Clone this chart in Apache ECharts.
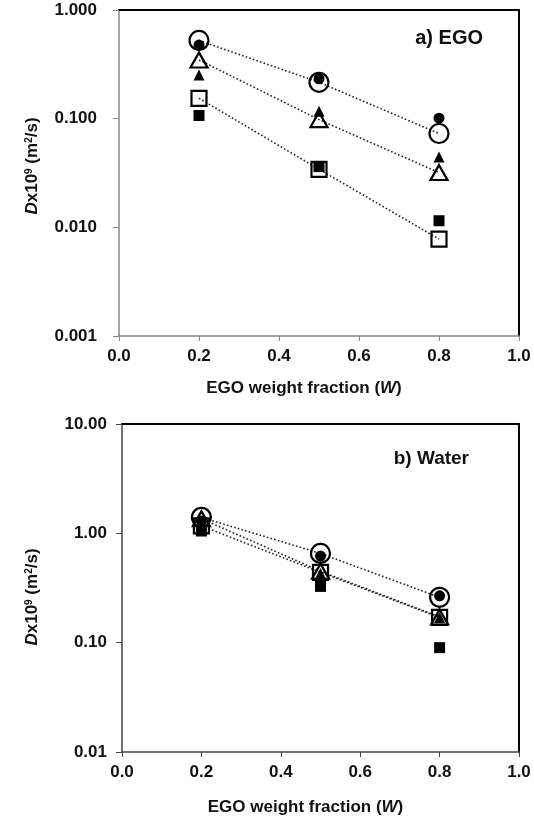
<!DOCTYPE html>
<html lang="en">

<head>
    <meta charset="UTF-8">
    <title>Diffusion coefficients vs EGO weight fraction</title>
    <script src="https://cdn.jsdelivr.net/npm/echarts@6/dist/echarts.min.js"></script>
    <style>
        html, body { margin: 0; padding: 0; background: #fff; }
    </style>
</head>

<body>
    <div id="chart" style="width: 534px; height: 823px;"></div>

    <script>
        // EGO weight fraction (W)
        let fractions = [0.2, 0.5, 0.8];

        // a) EGO
        let openCircleA = [0.525, 0.216, 0.073];
        let fillCircleA = [0.476, 0.233, 0.101];
        let openTriA = [0.347, 0.098, 0.0319];
        let fillTriA = [0.252, 0.117, 0.0445];
        let openSqA = [0.154, 0.0342, 0.0078];
        let fillSqA = [0.107, 0.0362, 0.0115];

        // b) Water
        let openCircleB = [1.40, 0.655, 0.26];
        let fillCircleB = [1.30, 0.62, 0.268];
        let openTriB = [1.36, 0.45, 0.172];
        let fillTriB = [1.25, 0.43, 0.17];
        let openSqB = [1.17, 0.44, 0.17];
        let fillSqB = [1.05, 0.327, 0.09];

        let xTicks = ['0.0', '0.2', '0.4', '0.6', '0.8', '1.0'];
        let yTicksA = ['0.001', '0.010', '0.100', '1.000'];
        let yTicksB = ['0.01', '0.10', '1.00', '10.00'];

        const FONT = 'Liberation Sans, Arial, sans-serif';
        const labelStyle = { fontFamily: FONT, fontSize: 17, fontWeight: 'bold', color: '#111' };

        function pairs(vals) {
            return fractions.map((x, i) => [x, vals[i]]);
        }

        function yName(pad) {
            return {
                fontFamily: FONT, fontSize: 17, fontWeight: 'bold', color: '#111',
                padding: pad,
                rich: {
                    i: { fontFamily: FONT, fontSize: 17, fontWeight: 'bold', fontStyle: 'italic', color: '#111' },
                    sup: { fontFamily: FONT, fontSize: 10, fontWeight: 'bold', color: '#111', verticalAlign: 'top', padding: [0, 0, 7, 0] }
                }
            };
        }

        function mainX(grid, gap) {
            return {
                type: 'value', gridIndex: grid, min: 0, max: 1, interval: 0.2,
                name: 'EGO weight fraction ({wi|W})',
                nameLocation: 'middle', nameGap: gap,
                nameTextStyle: Object.assign({}, labelStyle, {
                    padding: [0, 30, 0, 0],
                    rich: { wi: { fontFamily: FONT, fontSize: 17, fontWeight: 'bold', fontStyle: 'italic', color: '#111' } }
                }),
                axisLine: { onZero: false, lineStyle: { color: grid === 0 ? '#888' : '#444', width: 1.5 } },
                axisTick: { length: 5, lineStyle: { color: grid === 0 ? '#888' : '#444' } },
                axisLabel: Object.assign({}, labelStyle, {
                    margin: 12,
                    formatter: v => xTicks[Math.round(v * 5)]
                }),
                splitLine: { show: false }
            };
        }

        function frameX(grid) {
            return {
                type: 'value', gridIndex: grid, min: 0, max: 1, position: 'top',
                axisLine: { onZero: false, lineStyle: { color: '#000', width: 2 } },
                axisTick: { show: false }, axisLabel: { show: false }, splitLine: { show: false }
            };
        }

        function mainY(grid, min, max, ticks, margin, gap, pad) {
            let e0 = Math.round(Math.log10(min));
            return {
                type: 'log', logBase: 10, gridIndex: grid, min: min, max: max, splitNumber: 3,
                position: 'left',
                name: '{i|D}x10{sup|9} (m{sup|2}/s)',
                nameLocation: 'middle', nameGap: gap, nameRotate: 90,
                nameTextStyle: yName(pad),
                axisLine: { onZero: false, lineStyle: { color: grid === 0 ? '#888' : '#444', width: 1.5 } },
                axisTick: { length: 6, lineStyle: { color: grid === 0 ? '#888' : '#444' } },
                axisLabel: Object.assign({}, labelStyle, {
                    margin: margin,
                    formatter: v => ticks[Math.round(Math.log10(v)) - e0]
                }),
                minorTick: { show: false },
                splitLine: { show: false }
            };
        }

        function frameY(grid, min, max) {
            return {
                type: 'log', logBase: 10, gridIndex: grid, min: min, max: max, position: 'right',
                axisLine: { onZero: false, lineStyle: { color: '#000', width: 2 } },
                axisTick: { show: false }, axisLabel: { show: false }, splitLine: { show: false }
            };
        }

        function openSeries(axis, vals, symbol, size) {
            return {
                type: 'line', xAxisIndex: axis, yAxisIndex: axis, data: pairs(vals),
                symbol: symbol, symbolSize: size, z: 2,
                lineStyle: { color: '#222', width: 1.6, type: [1.6, 2.2] },
                itemStyle: { color: 'rgba(255,255,255,0)', borderColor: '#000', borderWidth: 2.2 }
            };
        }

        function fillSeries(axis, vals, symbol, size) {
            return {
                type: 'scatter', xAxisIndex: axis, yAxisIndex: axis, data: pairs(vals),
                symbol: symbol, symbolSize: size, z: 3,
                itemStyle: { color: '#000', opacity: 1 }
            };
        }

        let chart = echarts.init(document.getElementById('chart'));

        let option = {
            animation: false,
            backgroundColor: '#fff',
            grid: [
                { left: 119, top: 10, width: 400, height: 326 },
                { left: 122, top: 424, width: 397, height: 328 }
            ],
            xAxis: [mainX(0, 44), mainX(1, 47), frameX(0), frameX(1)],
            yAxis: [
                mainY(0, 0.001, 1, yTicksA, 22, 78, [0, 0, 0, 14]),
                mainY(1, 0.01, 10, yTicksB, 15, 81, [0, 18, 0, 0]),
                frameY(0, 0.001, 1),
                frameY(1, 0.01, 10)
            ],
            graphic: [
                {
                    type: 'text', x: 483, y: 38,
                    style: { text: 'a) EGO', align: 'right', verticalAlign: 'middle', fontFamily: FONT, fontSize: 20, fontWeight: 'bold', fill: '#111' }
                },
                {
                    type: 'text', x: 469, y: 459,
                    style: { text: 'b) Water', align: 'right', verticalAlign: 'middle', fontFamily: FONT, fontSize: 19, fontWeight: 'bold', fill: '#111' }
                }
            ],
            series: [
                openSeries(0, openCircleA, 'circle', 19),
                openSeries(0, openTriA, 'triangle', [17, 15]),
                openSeries(0, openSqA, 'rect', 15),
                fillSeries(0, fillCircleA, 'circle', 11),
                fillSeries(0, fillTriA, 'triangle', [11, 11]),
                fillSeries(0, fillSqA, 'rect', 11),

                openSeries(1, openCircleB, 'circle', 19),
                openSeries(1, openTriB, 'triangle', [17, 15]),
                openSeries(1, openSqB, 'rect', 15),
                fillSeries(1, fillCircleB, 'circle', 11),
                fillSeries(1, fillTriB, 'triangle', [11, 11]),
                fillSeries(1, fillSqB, 'rect', 11)
            ]
        };

        chart.setOption(option);
    </script>
</body>

</html>
